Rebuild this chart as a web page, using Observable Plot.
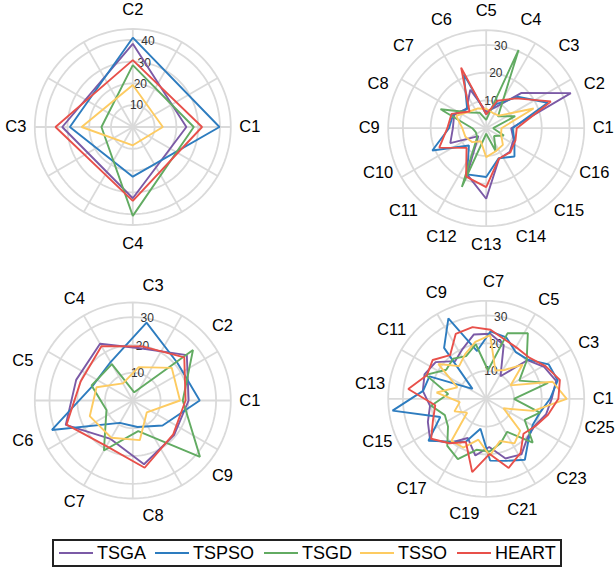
<!DOCTYPE html>
<html>
<head>
<meta charset="utf-8">
<script src="https://cdn.jsdelivr.net/npm/d3@7"></script>
<script src="https://cdn.jsdelivr.net/npm/@observablehq/plot@0.6"></script>
<style>
  html, body { margin: 0; padding: 0; background: #fff; }
  #wrap { position: relative; width: 616px; height: 569px; overflow: hidden; font-family: "Liberation Sans", Arial, Helvetica, sans-serif; }
  .panel { position: absolute; }
  #legend { position: absolute; left: 52px; top: 539px; width: 506px; height: 24px; border: 2px solid #222; background: #fff;
            font-size: 18px; color: #000; }
  .item { display: flex; align-items: center; position: absolute; top: 0; height: 24px; }
  .swatch { width: 34px; height: 2.2px; margin-right: 4px; }
</style>
</head>
<body>
<div id="wrap"><div id="legend"></div></div>
<script>
// ---- series names and colours ----
const seriesNames = ["TSGA", "TSPSO", "TSGD", "TSSO", "HEART"];
const seriesColors = ["#7b5aa6", "#2d7cbf", "#62ab62", "#fdcb61", "#e8504a"];

// ---- chart 1 ----
const cats1 = ["C1", "C2", "C3", "C4"];
const ticks1 = [10, 20, 30, 40];
const rmax1 = 45;
const tsga1  = [24.6, 38.2, 32.4, 32.7];
const tspso1 = [39.8, 41.0, 28.9, 22.8];
const tsgd1  = [28.0, 28.4, 14.4, 40.8];
const tsso1  = [13.8, 19.3, 23.5, 8.4];
const heart1 = [31.8, 30.7, 35.5, 33.9];

// ---- chart 2 ----
const cats2 = ["C1","C2","C3","C4","C5","C6","C7","C8","C9","C10","C11","C12","C13","C14","C15","C16"];
const ticks2 = [10, 20, 30];
const rmax2 = 35.3;
const tsga2  = [9, 33, 18, 8, 6, 15, 10, 12.5, 12, 14, 4, 18, 25.4, 12, 12, 10.7];
const tspso2 = [9.5, 24, 16, 9.4, 5, 21, 9.7, 12.9, 13.4, 21, 8.8, 18, 17.6, 11.7, 14.4, 11];
const tsgd2  = [2.5, 11.3, 6, 30.5, 3, 6, 8, 17.8, 5, 4, 4.6, 22.9, 2, 9, 4, 6.9];
const tsso2  = [5.5, 18.5, 6.4, 6, 7, 7.7, 8.5, 11.7, 8.6, 8.1, 7.1, 5.1, 10.4, 9, 8.5, 5.8];
const heart2 = [11, 25.2, 15.2, 10.7, 5, 23.6, 8.5, 13.5, 14, 18.3, 10, 18.9, 21.2, 11.9, 12.3, 11.4];

// ---- chart 3 ----
const cats3 = ["C1","C2","C3","C4","C5","C6","C7","C8","C9"];
const ticks3 = [10, 20, 30];
const rmax3 = 35.3;
const tsga3  = [20.1, 25.4, 19, 23.6, 21.7, 25.7, 16, 23.3, 19.4];
const tspso3 = [24.1, 21, 28.5, 16, 15.4, 31, 9.3, 9.7, 14];
const tsgd3  = [18, 28.3, 3, 15.1, 15.8, 10.1, 20.8, 11.2, 31.6];
const tsso3  = [17, 18.3, 12.2, 7.1, 13.9, 16.5, 15.5, 14.5, 6.6];
const heart3 = [19, 24.2, 19.8, 22.6, 20, 25.4, 19, 24.6, 19];

// ---- chart 4 ----
const cats4 = ["C1","C2","C3","C4","C5","C6","C7","C8","C9","C10","C11","C12","C13","C14","C15","C16","C17","C18","C19","C20","C21","C22","C23","C24","C25"];
const ticks4 = [10, 20, 30];
const rmax4 = 35.3;
const tsga4  = [23.6, 26, 23.8, 20.3, 9.6, 20.4, 23.5, 23.6, 19.9, 17.6, 22.5, 23.9, 23, 20.4, 22.6, 25, 20.6, 15.6, 20.8, 17.4, 22.6, 23.7, 20.4, 20, 22.3];
const tspso4 = [23, 26.6, 25.7, 20.6, 19.9, 23.3, 24.3, 17.5, 32, 23.8, 6.1, 22, 22.9, 34, 17.8, 25.7, 20, 17, 11, 22.3, 23.5, 26, 21, 19.2, 20];
const tsgd4  = [10, 23, 13.6, 20, 28, 24.8, 10.3, 20, 17, 18.7, 17.8, 23.4, 13.8, 20, 16, 17, 22, 24, 18.7, 19, 16.8, 14.1, 23, 15.8, 20];
const tsso4  = [29, 24.7, 10, 18, 12.3, 10.7, 23, 20.9, 17.8, 15.3, 21.3, 11.2, 18, 9.6, 12.3, 8.5, 19.7, 19.4, 15, 20.5, 16, 19, 16.8, 7.1, 17.5];
const heart4 = [26, 27.4, 24.4, 21.5, 21.4, 22.3, 24.9, 26.3, 25.8, 20.4, 23.8, 23, 28.3, 18.5, 20.6, 24.5, 20.8, 17.2, 26.9, 19.9, 26.2, 23.1, 18.4, 20.3, 23];

const rad = deg => deg * Math.PI / 180;

function radar({cats, ticks, rmax, series, left, top, w, h, cx, cy, labelEvery = 1}) {
  const N = cats.length;
  const R = 98; // outer ring pixel radius
  const rows = [];
  series.forEach((vals, s) => vals.forEach((v, i) => rows.push({series: seriesNames[s], cat: cats[i], a: 360 * i / N, v})));
  const rings = [...ticks, rmax];
  const circle = d3.range(0, 361, 3);
  const ringPts = rings.flatMap(r => circle.map(a => ({r, a})));
  const spokes = d3.range(0, 360, 30);
  const catRows = cats.map((c, i) => ({c, a: 360 * i / N})).filter((d, i) => i % labelEvery === 0);
  const L = rmax * 117 / R;
  const chart = Plot.plot({
    width: w, height: h, margin: 0,
    style: {fontFamily: "'Liberation Sans', Arial, Helvetica, sans-serif", background: "transparent", overflow: "visible"},
    x: {domain: [-rmax, rmax], range: [cx - R, cx + R]},
    y: {domain: [-rmax, rmax], range: [cy + R, cy - R]},
    color: {domain: seriesNames, range: seriesColors},
    axis: null,
    marks: [
      Plot.line(ringPts, {x: d => d.r * Math.cos(rad(d.a)), y: d => d.r * Math.sin(rad(d.a)), z: "r", stroke: "#dadada", strokeWidth: 1.8}),
      Plot.link(spokes, {x1: () => 0, y1: () => 0, x2: a => rmax * Math.cos(rad(a)), y2: a => rmax * Math.sin(rad(a)), stroke: "#dadada", strokeWidth: 1.8}),
      Plot.text(ticks, {x: t => t * Math.cos(rad(80)), y: t => t * Math.sin(rad(80)), text: d => String(d), fontSize: 12, fill: "#333"}),
      Plot.line(rows, {x: d => d.v * Math.cos(rad(d.a)), y: d => d.v * Math.sin(rad(d.a)), z: "series", stroke: "series", curve: "linear-closed", strokeWidth: 1.9, strokeLinejoin: "miter"}),
      Plot.text(catRows, {x: d => L * Math.cos(rad(d.a)), y: d => L * Math.sin(rad(d.a)), text: "c", fontSize: 16.5, fill: "#000"})
    ]
  });
  chart.classList.add("panel");
  chart.style.left = left + "px";
  chart.style.top = top + "px";
  document.getElementById("wrap").appendChild(chart);
}

radar({cats: cats1, ticks: ticks1, rmax: rmax1, series: [tsga1, tspso1, tsgd1, tsso1, heart1], left: 0, top: 0, w: 308, h: 268, cx: 132.3, cy: 126.5});
radar({cats: cats2, ticks: ticks2, rmax: rmax2, series: [tsga2, tspso2, tsgd2, tsso2, heart2], left: 308, top: 0, w: 308, h: 268, cx: 177.7, cy: 127.7});
radar({cats: cats3, ticks: ticks3, rmax: rmax3, series: [tsga3, tspso3, tsgd3, tsso3, heart3], left: 0, top: 268, w: 308, h: 268, cx: 132.3, cy: 132});
radar({cats: cats4, ticks: ticks4, rmax: rmax4, series: [tsga4, tspso4, tsgd4, tsso4, heart4], left: 308, top: 268, w: 308, h: 268, cx: 177.7, cy: 130.3, labelEvery: 2});

// ---- legend ----
const legendX = [5, 101, 210, 306, 403];
const legend = document.getElementById("legend");
seriesNames.forEach((name, i) => {
  const item = document.createElement("div");
  item.className = "item";
  item.style.left = legendX[i] + "px";
  const sw = document.createElement("div");
  sw.className = "swatch";
  sw.style.background = seriesColors[i];
  const t = document.createElement("span");
  t.textContent = name;
  item.appendChild(sw);
  item.appendChild(t);
  legend.appendChild(item);
});
</script>
</body>
</html>
